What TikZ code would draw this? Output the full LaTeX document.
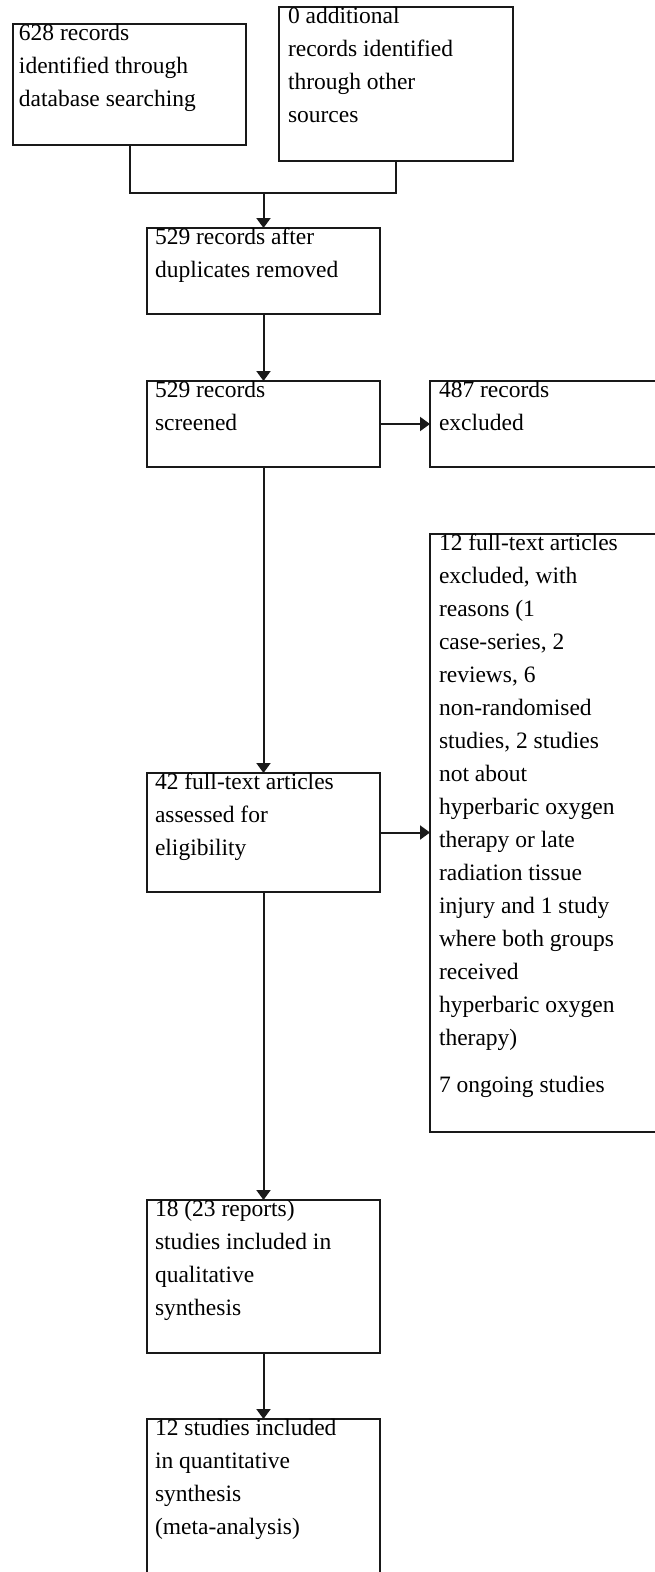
\documentclass[tikz,border=0pt]{standalone}
\usepackage{fontspec}
\setmainfont{Liberation Serif}
\usetikzlibrary{arrows.meta,calc}
\tikzset{
  box/.style={draw=black!90, line width=1.6pt, inner sep=0pt, outer sep=0pt, anchor=north west},
  txt/.style={inner sep=0pt, outer sep=0pt, anchor=north west, align=left, font=\fontsize{23.5}{33}\selectfont},
  conn/.style={line width=2pt, draw=black!90},
  arr/.style={conn, -{Triangle[length=10pt,width=14pt]}}
}
\newcommand{\fst}{\rule{0pt}{16pt}}
\begin{document}
\begin{tikzpicture}[x=1pt,y=-1pt]
\useasboundingbox (0,0) rectangle (655,1572);
\clip (0,0) rectangle (655,1572);
\fill[white] (0,0) rectangle (655,1572);
% boxes
\node[box, minimum width=233pt, minimum height=121pt] (A) at (13,24) {};
\node[box, minimum width=234pt, minimum height=154pt] (B) at (279,7) {};
\node[box, minimum width=233pt, minimum height=86pt] (C) at (147,228) {};
\node[box, minimum width=233pt, minimum height=86pt] (D) at (147,381) {};
\node[box, minimum width=240pt, minimum height=86pt] (E) at (430,381) {};
\node[box, minimum width=240pt, minimum height=598pt] (F) at (430,534) {};
\node[box, minimum width=233pt, minimum height=119pt] (G) at (147,773) {};
\node[box, minimum width=233pt, minimum height=153pt] (H) at (147,1200) {};
\node[box, minimum width=233pt, minimum height=190pt] (I) at (147,1419) {};
% texts
\node[txt] (At) at ([xshift=6pt]A.north west) {\fst 628 records\\identified through\\database searching};
\node[txt] (Bt) at ([xshift=9pt]B.north west) {\fst 0 additional\\records identified\\through other\\sources};
\node[txt] (Ct) at ([xshift=8pt]C.north west) {\fst 529 records after\\duplicates removed};
\node[txt] (Dt) at ([xshift=8pt]D.north west) {\fst 529 records\\screened};
\node[txt] (Et) at ([xshift=9pt]E.north west) {\fst 487 records\\excluded};
\node[txt] (Ft) at ([xshift=9pt]F.north west) {\fst 12 full-text articles\\excluded, with\\reasons (1\\case-series, 2\\reviews, 6\\non-randomised\\studies, 2 studies\\not about\\hyperbaric oxygen\\therapy or late\\radiation tissue\\injury and 1 study\\where both groups\\received\\hyperbaric oxygen\\therapy)\\[14pt]7 ongoing studies};
\node[txt] (Gt) at ([xshift=8pt]G.north west) {\fst 42 full-text articles\\assessed for\\eligibility};
\node[txt] (Ht) at ([xshift=8pt]H.north west) {\fst 18 (23 reports)\\studies included in\\qualitative\\synthesis};
\node[txt] (It) at ([xshift=8pt]I.north west) {\fst 12 studies included\\in quantitative\\synthesis\\(meta-analysis)};
% connectors
\coordinate (J) at ($(C.north)+(0,-35)$);
\draw[conn] (A.south) |- (J) -| (B.south);
\draw[arr] (J) -- (C.north);
\draw[arr] (C.south) -- (D.north);
\draw[arr] (D.east) -- (D.east -| E.west);
\draw[arr] (D.south) -- (G.north);
\draw[arr] (G.east) -- (G.east -| F.west);
\draw[arr] (G.south) -- (H.north);
\draw[arr] (H.south) -- (I.north);
\end{tikzpicture}
\end{document}
